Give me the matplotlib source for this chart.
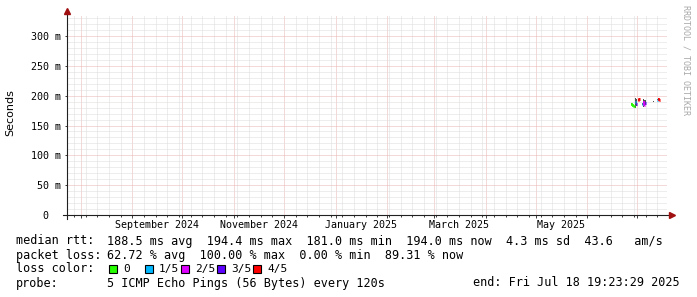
import numpy as np
import pandas as pd
import matplotlib
matplotlib.use("Agg")
import matplotlib.pyplot as plt
import matplotlib.dates as mdates
from matplotlib.patches import Rectangle

# smokeping style graph, last 360 days

# ---- data ----
end_time = pd.Timestamp("2025-07-18 19:23:29")
span_days = 360

ping_time = ["2025-06-27 05:00", "2025-06-27 19:24", "2025-06-28 09:48", "2025-06-29 00:12",
             "2025-06-29 14:36", "2025-06-30 05:00", "2025-07-01 09:48", "2025-07-02 00:12",
             "2025-07-03 19:00", "2025-07-04 09:24", "2025-07-04 23:48", "2025-07-05 14:12",
             "2025-07-10 05:00", "2025-07-12 19:00", "2025-07-13 09:24", "2025-07-13 23:48"]
median_ms = [186, 185, 183, 182, 189, 186, 193, 194,
             186, 190, 184, 188, np.nan, 193, 194, 193]
loss_level = [0, 0, 0, 0, 1, 3, 4, 4,
              1, 2, 2, 3, -1, 1, 4, 4]
smoke_lo = [185, 184, 182, 181, 180, 182, 191, 192,
            184, 181, 182, 184, 189.5, 192, 192, 192]
smoke_hi = [187, 186, 184, 183, 196, 195, 195, 196,
            188, 194, 192, 193, 190.5, 194, 196, 194]

loss_names = ["0", "1/5", "2/5", "3/5", "4/5"]
loss_colors = ["#26ff00", "#00b8ff", "#dd00ff", "#5e00ff", "#ff0000"]

y_ticks = [0, 50, 100, 150, 200, 250, 300]
y_labels = ["0  ", "50 m", "100 m", "150 m", "200 m", "250 m", "300 m"]

month_labels = ["September 2024", "November 2024", "January 2025", "March 2025", "May 2025"]
month_label_start = ["2024-09-01", "2024-11-01", "2025-01-01", "2025-03-01", "2025-05-01"]

legend_names = ["median rtt:", "packet loss:", "loss color:", "probe:"]
legend_values = [
    "188.5 ms avg  194.4 ms max  181.0 ms min  194.0 ms now  4.3 ms sd  43.6   am/s",
    "62.72 % avg  100.00 % max  0.00 % min  89.31 % now",
    "",
    "5 ICMP Echo Pings (56 Bytes) every 120s",
]
end_text = "end: Fri Jul 18 19:23:29 2025"

# ---- figure ----
W, H = 697, 297
MONO = "DejaVu Sans Mono"
LEG_FS = 8.5
fig = plt.figure(figsize=(W / 100, H / 100), dpi=100, facecolor="white")


def fx(x):
    return x / W


def fy(y):
    return 1 - y / H


ax = fig.add_axes([fx(67), fy(215), 600 / W, 200 / H])
ax.set_facecolor("white")

start_time = end_time - pd.Timedelta(days=span_days)
x0 = mdates.date2num(start_time.to_pydatetime())
x1 = mdates.date2num(end_time.to_pydatetime())
ax.set_xlim(x0, x1)
ax.set_ylim(0, 335.2)

# grid
months = pd.date_range("2024-08-01", "2025-07-01", freq="MS")
sundays = pd.date_range("2024-07-28", "2025-07-13", freq="7D")
ax.set_xticks(mdates.date2num(months.to_pydatetime()))
ax.set_xticks(mdates.date2num(sundays.to_pydatetime()), minor=True)
ax.set_yticks(y_ticks)
ax.set_yticks(np.arange(0, 336, 10), minor=True)
ax.set_yticklabels(y_labels, fontfamily=MONO, fontsize=7.2)
ax.set_xticklabels([])

ax.grid(True, which="minor", color="#dcdcdc", ls=(0, (1, 1)), lw=0.72)
ax.grid(True, which="major", color="#ebb4b4", ls=(0, (1, 1)), lw=0.72)
ax.set_axisbelow(True)
for s in ax.spines.values():
    s.set_visible(False)

ax.tick_params(axis="x", which="major", direction="out", length=2.2, width=0.72, color="#404040")
ax.tick_params(axis="x", which="minor", direction="out", length=1.5, width=0.72, color="#404040")
ax.tick_params(axis="y", which="major", direction="out", length=1.5, width=0.72, color="#404040", pad=3)
ax.tick_params(axis="y", which="minor", length=0)

# axes lines + arrows
ax.plot([-4 / 600, 602 / 600], [0, 0], transform=ax.transAxes, color="#202020", lw=0.8, clip_on=False, zorder=5)
ax.plot([0, 0], [-4 / 200, 1.01], transform=ax.transAxes, color="#202020", lw=0.8, clip_on=False, zorder=5)
ax.plot([605 / 600], [0], marker=">", ms=4.5, color="#a01010", transform=ax.transAxes, clip_on=False, zorder=6)
ax.plot([0], [1.02], marker="^", ms=4.5, color="#a01010", transform=ax.transAxes, clip_on=False, zorder=6)

# month labels (centred mid month, like rrdtool)
for lab, st in zip(month_labels, month_label_start):
    xm = mdates.date2num((pd.Timestamp(st) + pd.Timedelta(days=15)).to_pydatetime())
    ax.text(xm, -10 / 200, lab, transform=ax.get_xaxis_transform(), ha="center", va="center",
            fontfamily=MONO, fontsize=7.2, color="black")

# data: smoke then median
t_num = mdates.date2num(pd.to_datetime(ping_time).to_pydatetime())
step = span_days / 600.0
for i in range(len(t_num)):
    ax.fill_between([t_num[i], t_num[i] + step], smoke_lo[i], smoke_hi[i], color="#505050", lw=0, zorder=3)
for i in range(len(t_num)):
    if loss_level[i] < 0 or np.isnan(median_ms[i]):
        continue
    c = loss_colors[loss_level[i]]
    ax.plot([t_num[i], t_num[i] + step], [median_ms[i], median_ms[i]], color=c, lw=2.2,
            solid_capstyle="butt", zorder=4)
    if i > 0 and loss_level[i - 1] == loss_level[i] and abs(t_num[i] - t_num[i - 1] - step) < 0.1:
        ax.plot([t_num[i], t_num[i]], [median_ms[i - 1], median_ms[i]], color=c, lw=1.2, zorder=4)

# y label and watermark
fig.text(fx(10), fy(113), "Seconds", rotation=90, ha="center", va="center",
         fontfamily="DejaVu Sans", fontsize=8)
fig.text(fx(686), fy(60), "RRDTOOL / TOBI OETIKER", rotation=270, ha="center", va="center",
         fontfamily=MONO, fontsize=6, color="#a8a8a8")

# legend block
row_y = [241, 255, 269, 283]
for name, val, y in zip(legend_names, legend_values, row_y):
    fig.text(fx(16), fy(y), name, ha="left", va="center", fontfamily=MONO, fontsize=LEG_FS)
    if val:
        fig.text(fx(107), fy(y), val, ha="left", va="center", fontfamily=MONO, fontsize=LEG_FS)
fig.text(fx(680), fy(283), end_text, ha="right", va="center", fontfamily=MONO, fontsize=LEG_FS)

for k, (name, col) in enumerate(zip(loss_names, loss_colors)):
    bx = 109 + 36 * k
    fig.patches.append(Rectangle((fx(bx), fy(273)), 8 / W, 8 / H, transform=fig.transFigure,
                                 facecolor=col, edgecolor="black", lw=0.8))
    fig.text(fx(bx + 14), fy(269), name, ha="left", va="center", fontfamily=MONO, fontsize=8.0)

fig.savefig("out.png", dpi=100, facecolor="white")
